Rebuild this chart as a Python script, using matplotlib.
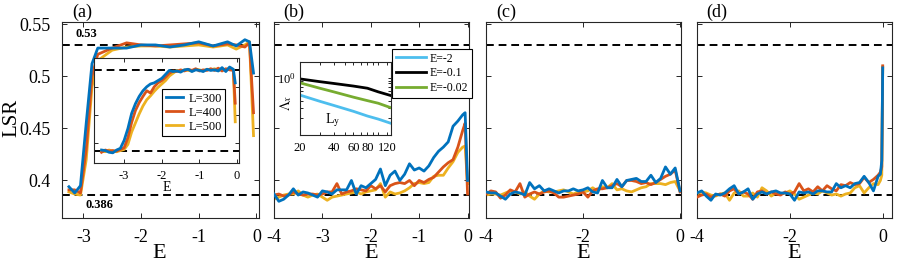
import numpy as np
import matplotlib
matplotlib.use("Agg")
import matplotlib.pyplot as plt
from matplotlib.ticker import LogLocator, NullFormatter, FixedLocator

plt.rcParams['font.family'] = 'serif'
plt.rcParams['font.serif'] = ['Liberation Serif', 'DejaVu Serif']
plt.rcParams['mathtext.fontset'] = 'stix'
plt.rcParams['axes.unicode_minus'] = False

c300, c400, c500 = '#0072BD', '#D95319', '#EDB120'
labels_L = ['L=300', 'L=400', 'L=500']

# ---- panel (a), main curves
E_a = [-3.25, -3.15, -3.05, -2.95, -2.85, -2.75, -2.5, -2.25, -2.0, -1.75,
       -1.5, -1.25, -1.0, -0.75, -0.5, -0.35, -0.2, -0.12, -0.05]
a300 = [0.394, 0.388, 0.395, 0.455, 0.512, 0.527, 0.527, 0.527, 0.530, 0.530,
        0.528, 0.530, 0.533, 0.529, 0.533, 0.529, 0.535, 0.533, 0.503]
a400 = [0.391, 0.391, 0.388, 0.430, 0.500, 0.521, 0.527, 0.532, 0.530, 0.529,
        0.530, 0.531, 0.532, 0.529, 0.531, 0.530, 0.528, 0.532, 0.465]
a500 = [0.389, 0.387, 0.386, 0.420, 0.490, 0.515, 0.525, 0.528, 0.529, 0.529,
        0.528, 0.529, 0.530, 0.528, 0.530, 0.526, 0.530, 0.533, 0.443]

# ---- panel (a), inset curves (E = -3.6 ... -0.1 step 0.1, then -0.05)
E_ins = list(np.round(np.arange(-3.6, -0.05, 0.1), 2)) + [-0.05]
i300 = [0.388, 0.387, 0.384, 0.383, 0.388, 0.391, 0.405, 0.426, 0.453, 0.470,
        0.483, 0.493, 0.500, 0.505, 0.507, 0.511, 0.515, 0.522, 0.529, 0.527,
        0.528, 0.526, 0.530, 0.531, 0.527, 0.530, 0.529, 0.527, 0.531, 0.529,
        0.530, 0.528, 0.534, 0.527, 0.535, 0.531, 0.507]
i400 = [0.384, 0.388, 0.386, 0.387, 0.386, 0.389, 0.392, 0.410, 0.437, 0.458,
        0.472, 0.483, 0.493, 0.489, 0.500, 0.507, 0.511, 0.517, 0.524, 0.528,
        0.527, 0.530, 0.528, 0.531, 0.529, 0.532, 0.528, 0.530, 0.529, 0.532,
        0.529, 0.533, 0.528, 0.532, 0.530, 0.529, 0.471]
i500 = [0.386, 0.385, 0.388, 0.386, 0.385, 0.387, 0.389, 0.398, 0.420, 0.436,
        0.452, 0.466, 0.477, 0.484, 0.492, 0.499, 0.505, 0.511, 0.519, 0.524,
        0.529, 0.527, 0.530, 0.529, 0.528, 0.531, 0.530, 0.528, 0.531, 0.530,
        0.532, 0.529, 0.531, 0.530, 0.533, 0.530, 0.438]

# ---- panel (b)  (E = -4 ... -0.1 step 0.1, then -0.05, 0)
E_b = list(np.round(np.arange(-4.0, -0.05, 0.1), 2)) + [-0.05, 0.0]
b300 = [0.387, 0.380, 0.382, 0.386, 0.392, 0.386, 0.389, 0.388, 0.386, 0.384,
        0.390, 0.389, 0.387, 0.391, 0.391, 0.391, 0.400, 0.387, 0.395, 0.393,
        0.397, 0.401, 0.411, 0.395, 0.405, 0.409, 0.400, 0.406, 0.416, 0.410,
        0.412, 0.409, 0.414, 0.422, 0.428, 0.432, 0.437, 0.452, 0.457, 0.463,
        0.465, 0.400]
b400 = [0.386, 0.387, 0.385, 0.386, 0.389, 0.387, 0.386, 0.387, 0.387, 0.386,
        0.387, 0.389, 0.389, 0.397, 0.387, 0.389, 0.390, 0.392, 0.391, 0.390,
        0.395, 0.392, 0.395, 0.389, 0.395, 0.397, 0.398, 0.397, 0.400, 0.395,
        0.400, 0.398, 0.401, 0.403, 0.408, 0.413, 0.417, 0.420, 0.432, 0.448,
        0.455, 0.387]
b500 = [0.382, 0.384, 0.386, 0.387, 0.387, 0.390, 0.386, 0.384, 0.386, 0.387,
        0.384, 0.381, 0.384, 0.385, 0.386, 0.387, 0.388, 0.389, 0.387, 0.389,
        0.390, 0.391, 0.397, 0.384, 0.389, 0.387, 0.388, 0.390, 0.393, 0.397,
        0.398, 0.397, 0.398, 0.404, 0.405, 0.405, 0.412, 0.418, 0.427, 0.432,
        0.433, 0.397]

# ---- panel (c)  (E = -4 ... 0 step 0.1)
E_c = list(np.round(np.arange(-4.0, 0.05, 0.1), 2))
c300v = [0.389, 0.388, 0.388, 0.385, 0.382, 0.387, 0.389, 0.388, 0.386, 0.398,
         0.392, 0.395, 0.390, 0.392, 0.390, 0.388, 0.390, 0.390, 0.392, 0.390,
         0.391, 0.393, 0.389, 0.388, 0.400, 0.393, 0.393, 0.401, 0.394, 0.400,
         0.401, 0.402, 0.399, 0.399, 0.405, 0.398, 0.402, 0.413, 0.406, 0.412,
         0.390]
c400v = [0.387, 0.390, 0.389, 0.383, 0.386, 0.391, 0.389, 0.397, 0.384, 0.387,
         0.389, 0.387, 0.389, 0.390, 0.388, 0.384, 0.384, 0.385, 0.386, 0.387,
         0.389, 0.384, 0.390, 0.392, 0.392, 0.393, 0.395, 0.397, 0.394, 0.400,
         0.400, 0.399, 0.397, 0.398, 0.396, 0.398, 0.401, 0.404, 0.406, 0.410,
         0.389]
c500v = [0.386, 0.387, 0.387, 0.386, 0.388, 0.390, 0.389, 0.387, 0.389, 0.385,
         0.382, 0.387, 0.390, 0.389, 0.389, 0.390, 0.391, 0.389, 0.387, 0.389,
         0.389, 0.390, 0.393, 0.390, 0.394, 0.393, 0.397, 0.391, 0.392, 0.390,
         0.389, 0.391, 0.393, 0.394, 0.397, 0.397, 0.397, 0.396, 0.398, 0.399,
         0.390]

# ---- panel (d)  (E = -4 ... -0.1 step 0.1, then -0.05, -0.02, 0)
E_d = list(np.round(np.arange(-4.0, -0.05, 0.1), 2)) + [-0.05, -0.02, 0.0]
d300 = [0.388, 0.390, 0.385, 0.381, 0.387, 0.386, 0.388, 0.392, 0.395, 0.387,
        0.389, 0.392, 0.382, 0.387, 0.389, 0.387, 0.389, 0.390, 0.388, 0.388,
        0.387, 0.381, 0.389, 0.388, 0.389, 0.387, 0.390, 0.390, 0.389, 0.389,
        0.397, 0.393, 0.395, 0.393, 0.397, 0.398, 0.404, 0.398, 0.390, 0.404,
        0.406, 0.419, 0.508]
d400 = [0.384, 0.386, 0.387, 0.384, 0.386, 0.387, 0.385, 0.390, 0.392, 0.387,
        0.389, 0.387, 0.382, 0.389, 0.390, 0.387, 0.389, 0.387, 0.386, 0.389,
        0.387, 0.389, 0.397, 0.390, 0.392, 0.389, 0.394, 0.390, 0.395, 0.392,
        0.390, 0.396, 0.395, 0.398, 0.396, 0.397, 0.403, 0.398, 0.401, 0.405,
        0.408, 0.413, 0.510]
d500 = [0.387, 0.389, 0.388, 0.386, 0.385, 0.387, 0.388, 0.381, 0.388, 0.390,
        0.385, 0.385, 0.388, 0.384, 0.393, 0.390, 0.385, 0.388, 0.387, 0.388,
        0.390, 0.387, 0.382, 0.384, 0.386, 0.388, 0.387, 0.390, 0.388, 0.386,
        0.387, 0.385, 0.387, 0.388, 0.393, 0.395, 0.388, 0.393, 0.397, 0.396,
        0.400, 0.405, 0.509]

# ---- inset of (b): Lambda_x vs L_y
Ly = [20, 30, 40, 60, 80, 100, 130]
lam_m2 = [0.50, 0.39, 0.33, 0.26, 0.215, 0.19, 0.16]
lam_m01 = [0.96, 0.86, 0.80, 0.72, 0.66, 0.57, 0.49]
lam_m002 = [0.82, 0.66, 0.57, 0.46, 0.40, 0.36, 0.30]

fig = plt.figure(figsize=(9, 2.68), dpi=100)
W, H = 900, 268


def px_axes(l, t, r, b):
    return fig.add_axes([l / W, 1 - b / H, (r - l) / W, (b - t) / H])


def style(ax, size=13, pad=8, length=3.5):
    ax.tick_params(which='both', direction='in', top=True, right=True,
                   length=length, width=0.7, labelsize=size, pad=pad,
                   color='#262626')
    for s in ax.spines.values():
        s.set_linewidth(0.8)
        s.set_color('#262626')


dash = (0, (4, 2.5))
lw = 2.0

ax_a = px_axes(62, 22, 259, 218)
ax_b = px_axes(274, 22, 469, 218)
ax_c = px_axes(486, 22, 681, 218)
ax_d = px_axes(697, 22, 892, 218)

series = [
    (ax_a, E_a, a300, a400, a500),
    (ax_b, E_b, b300, b400, b500),
    (ax_c, E_c, c300v, c400v, c500v),
    (ax_d, E_d, d300, d400, d500),
]
for ax, E, s3, s4, s5 in series:
    ax.axhline(0.53, color='k', lw=1.4, ls=dash, zorder=1)
    ax.axhline(0.386, color='k', lw=1.4, ls=dash, zorder=1)
    ax.plot(E, s5, color=c500, lw=lw, zorder=2)
    ax.plot(E, s4, color=c400, lw=lw, zorder=3)
    ax.plot(E, s3, color=c300, lw=lw, zorder=4)
    ax.set_ylim(0.364, 0.552)
    ax.set_yticks([0.4, 0.45, 0.5, 0.55])
    style(ax)

ax_a.set_yticklabels(['0.4', '0.45', '0.5', '0.55'])
for ax in (ax_b, ax_c, ax_d):
    ax.set_yticklabels([])

ax_a.set_xlim(-3.37, 0.045)
ax_a.set_xticks([-3, -2, -1, 0])
ax_b.set_xlim(-4, 0.03)
ax_b.set_xticks([-4, -3, -2, -1, 0])
ax_c.set_xlim(-4, 0.02)
ax_c.set_xticks([-4, -2, 0])
ax_d.set_xlim(-4, 0.2)
ax_d.set_xticks([-4, -2, 0])

lefts = [62, 274, 486, 697]
for l, tag in zip(lefts, 'abcd'):
    fig.text((l + 20) / W, 1 - 12 / H, '(' + tag + ')',
             ha='center', va='center', fontsize=13)
    fig.text((l + 97) / W, 1 - 254 / H, 'E', ha='center', va='center', fontsize=16)

fig.text(12 / W, 1 - 118 / H, 'LSR', rotation=90, ha='center', va='center', fontsize=15)
fig.text(75 / W, 1 - 34 / H, '0.53', fontweight='bold', fontsize=9, va='center')
fig.text(85 / W, 1 - 205 / H, '0.386', fontweight='bold', fontsize=9, va='center')

# inset in (a)
ins_a = px_axes(94, 58, 239, 163)
ins_a.axhline(0.53, color='k', lw=1.4, ls=dash, zorder=1)
ins_a.axhline(0.386, color='k', lw=1.4, ls=dash, zorder=1)
h5, = ins_a.plot(E_ins, i500, color=c500, lw=lw, zorder=2)
h4, = ins_a.plot(E_ins, i400, color=c400, lw=lw, zorder=3)
h3, = ins_a.plot(E_ins, i300, color=c300, lw=lw, zorder=4)
ins_a.set_xlim(-3.8, 0.05)
ins_a.set_ylim(0.365, 0.551)
ins_a.set_xticks([-3, -2, -1, 0])
ins_a.set_yticks([0.4, 0.45, 0.5])
ins_a.set_yticklabels([])
style(ins_a, size=9, pad=5, length=3)
ins_a.set_xlabel('E', fontsize=10, labelpad=-1)
leg = ins_a.legend([h3, h4, h5], labels_L, fontsize=9, loc='upper left',
                   bbox_to_anchor=(162 / W, 1 - 89 / H), bbox_transform=fig.transFigure,
                   handlelength=1.4, handletextpad=0.4, borderpad=0.3,
                   labelspacing=0.15, borderaxespad=0, fancybox=False, framealpha=1)
leg.get_frame().set_edgecolor('k')
leg.get_frame().set_linewidth(0.8)

# inset in (b)
ins_b = px_axes(300, 62, 391, 135)
g1, = ins_b.plot(Ly, lam_m2, color='#4DBEEE', lw=2)
g2, = ins_b.plot(Ly, lam_m01, color='k', lw=2)
g3, = ins_b.plot(Ly, lam_m002, color='#77AC30', lw=2)
ins_b.set_xscale('log')
ins_b.set_yscale('log')
ins_b.set_xlim(20, 130)
ins_b.set_ylim(0.1, 1.9)
ins_b.xaxis.set_major_locator(FixedLocator([20, 40, 60, 80, 120]))
ins_b.set_xticklabels(['20', '40', '60', '80', '120'])
ins_b.xaxis.set_minor_locator(LogLocator(base=10, subs=np.arange(1, 10)))
ins_b.xaxis.set_minor_formatter(NullFormatter())
ins_b.yaxis.set_major_locator(FixedLocator([1.0]))
ins_b.yaxis.set_minor_locator(LogLocator(base=10, subs=np.arange(2, 10)))
ins_b.yaxis.set_minor_formatter(NullFormatter())
style(ins_b, size=9, pad=3, length=2.5)
ins_b.tick_params(axis='x', pad=5)
ins_b.text(0.36, 0.2, r'L$_\mathrm{y}$', transform=ins_b.transAxes, fontsize=10,
           ha='center', va='center')
fig.text(286 / W, 1 - 103 / H, r'$\Lambda_x$', rotation=90, fontsize=10,
         ha='center', va='center')
leg_b = ax_b.legend([g1, g2, g3], ['E=-2', 'E=-0.1', 'E=-0.02'], fontsize=8.5,
                    loc='upper left', bbox_to_anchor=(392 / W, 1 - 49 / H),
                    bbox_transform=fig.transFigure, handlelength=2.6,
                    handletextpad=0.3, borderpad=0.3, labelspacing=0.25,
                    borderaxespad=0, fancybox=False, framealpha=1)
leg_b.get_frame().set_edgecolor('k')
leg_b.get_frame().set_linewidth(0.8)

fig.savefig('out.png', dpi=100)
